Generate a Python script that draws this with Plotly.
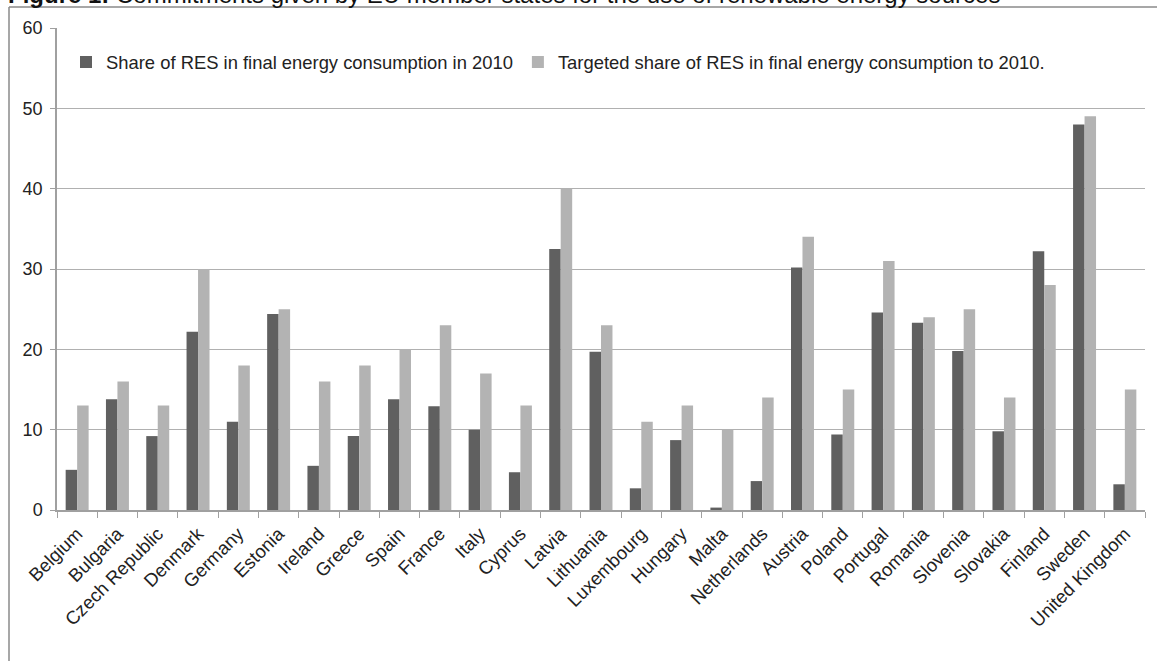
import plotly.graph_objects as go

countries = [
    "Belgium", "Bulgaria", "Czech Republic", "Denmark", "Germany", "Estonia",
    "Ireland", "Greece", "Spain", "France", "Italy", "Cyprus", "Latvia",
    "Lithuania", "Luxembourg", "Hungary", "Malta", "Netherlands", "Austria",
    "Poland", "Portugal", "Romania", "Slovenia", "Slovakia", "Finland",
    "Sweden", "United Kingdom",
]
share_2010 = [
    5.0, 13.8, 9.2, 22.2, 11.0, 24.4, 5.5, 9.2, 13.8, 12.9, 10.0, 4.7, 32.5,
    19.7, 2.7, 8.7, 0.3, 3.6, 30.2, 9.4, 24.6, 23.3, 19.8, 9.8, 32.2, 48.0, 3.2,
]
target_2010 = [
    13, 16, 13, 30, 18, 25, 16, 18, 20, 23, 17, 13, 40, 23, 11, 13, 10, 14,
    34, 15, 31, 24, 25, 14, 28, 49, 15,
]
series_names = [
    "Share of RES in final energy consumption in 2010",
    "Targeted share of RES in final energy consumption to 2010.",
]
y_ticks = [0, 10, 20, 30, 40, 50, 60]

FONT = "Liberation Sans, Arial, sans-serif"
W, H = 1157, 661
L, R, T, B = 57, 12, 28, 151

fig = go.Figure()
fig.add_trace(go.Bar(x=countries, y=share_2010, name=series_names[0],
                     marker=dict(color="#606060", line=dict(width=0))))
fig.add_trace(go.Bar(x=countries, y=target_2010, name=series_names[1],
                     marker=dict(color="#b3b3b3", line=dict(width=0))))

def px_x(px):
    return (px - L) / (W - L - R)

def px_y(py):
    return (H - B - py) / (H - T - B)

# outer frame: top and left border
fig.add_shape(type="line", xref="paper", yref="paper",
              x0=px_x(9), x1=px_x(W + 5), y0=px_y(7), y1=px_y(7),
              line=dict(color="#8a8a8a", width=1.5))
fig.add_shape(type="line", xref="paper", yref="paper",
              x0=px_x(9), x1=px_x(9), y0=px_y(7), y1=px_y(H + 5),
              line=dict(color="#8a8a8a", width=1.5))

fig.add_annotation(
    text="<b>Figure 1:</b> Commitments given by EU member states for the use of renewable energy sources",
    xref="paper", yref="paper", x=px_x(6), y=px_y(10), xanchor="left", yanchor="bottom",
    showarrow=False, font=dict(family=FONT, size=24, color="#111111"),
)

fig.update_layout(
    width=W, height=H,
    margin=dict(l=L, r=R, t=T, b=B),
    paper_bgcolor="white", plot_bgcolor="white",
    barmode="group", bargap=0.43, bargroupgap=0,
    font=dict(family=FONT, size=18.5, color="#222222"),
    showlegend=True,
    legend=dict(orientation="h", x=px_x(66), y=px_y(62), yanchor="middle", xanchor="left",
                font=dict(family=FONT, size=18.4, color="#222222"),
                bgcolor="rgba(0,0,0,0)", itemwidth=30),
    xaxis=dict(
        tickangle=-45, showgrid=False, showline=True, linecolor="#a0a0a0", linewidth=1.5,
        ticks="outside", ticklen=6, tickcolor="#a0a0a0", tickson="boundaries",
        tickfont=dict(family=FONT, size=18.5, color="#222222"), ticklabelstandoff=4,
        range=[-0.5, len(countries) - 0.5],
    ),
    yaxis=dict(
        range=[0, 60], tickvals=y_ticks, showgrid=True, gridcolor="#b0b0b0", gridwidth=1,
        showline=True, linecolor="#a0a0a0", linewidth=1.5, ticks="outside", ticklen=5,
        tickcolor="#a0a0a0", zeroline=False, ticklabelstandoff=4,
        tickfont=dict(family=FONT, size=18, color="#222222"),
    ),
)

fig.write_html("out.html")
